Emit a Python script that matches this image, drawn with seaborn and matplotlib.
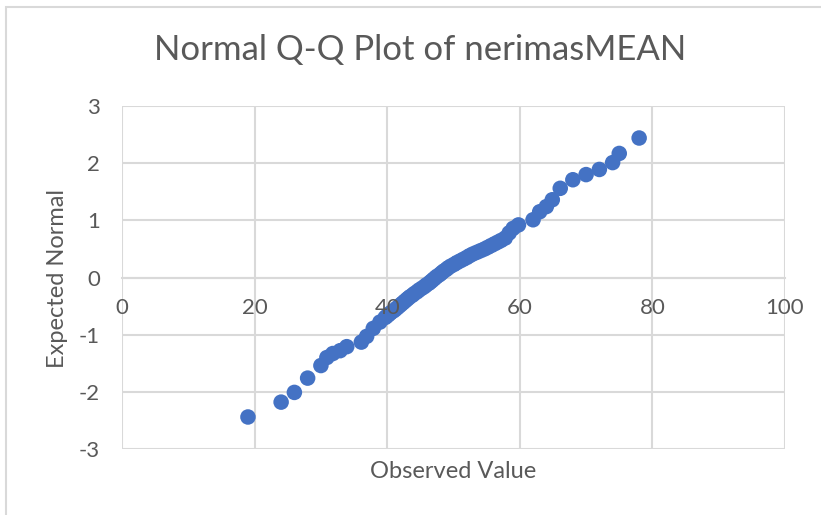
import numpy as np
import pandas as pd
import matplotlib
matplotlib.use("Agg")
import matplotlib.pyplot as plt
import matplotlib.transforms as mtransforms
from matplotlib.patches import Rectangle
import seaborn as sns

low_obs = [19.0, 24.0, 26.0, 28.0, 30.0, 30.9, 31.8, 32.9, 33.9, 36.1, 36.9, 37.9, 38.9]
low_exp = [-2.44, -2.18, -2.01, -1.76, -1.54, -1.40, -1.33, -1.28, -1.21, -1.13, -1.03, -0.89, -0.78]

mid_obs = [39.7, 40.0, 40.3, 40.6, 41.0, 41.3, 41.6, 41.9, 42.2, 42.5, 42.8, 43.1, 43.4, 43.8,
           44.1, 44.5, 44.8, 45.2, 45.6, 45.9, 46.3, 46.6, 46.9, 47.2, 47.5, 47.9, 48.2, 48.5,
           48.9, 49.2, 49.6, 50.1, 50.5, 51.0, 51.5, 52.0, 52.4, 52.9, 53.5, 54.1, 54.7, 55.2,
           55.7, 56.2, 56.7, 57.2]
mid_exp = [-0.70, -0.67, -0.64, -0.61, -0.58, -0.55, -0.52, -0.49, -0.46, -0.43, -0.40, -0.37,
           -0.34, -0.31, -0.28, -0.25, -0.22, -0.19, -0.16, -0.13, -0.10, -0.07, -0.04, -0.01,
           0.02, 0.05, 0.08, 0.11, 0.14, 0.17, 0.20, 0.23, 0.26, 0.29, 0.32, 0.35, 0.38, 0.41,
           0.44, 0.47, 0.50, 0.53, 0.56, 0.59, 0.62, 0.65]

high_obs = [57.8, 58.4, 59.0, 59.8, 62.0, 63.0, 64.0, 64.9, 66.1, 68.0, 70.0, 72.0, 74.0, 75.0, 78.0]
high_exp = [0.69, 0.78, 0.86, 0.92, 1.01, 1.15, 1.24, 1.36, 1.56, 1.71, 1.80, 1.89, 2.01, 2.17, 2.44]

x_ticks = [0, 20, 40, 60, 80, 100]
y_ticks = [-3, -2, -1, 0, 1, 2, 3]

df = pd.DataFrame({
    "observed": low_obs + mid_obs + high_obs,
    "expected": low_exp + mid_exp + high_exp,
})

sns.set_style("white")
plt.rcParams["font.family"] = ["Lato", "DejaVu Sans"]
plt.rcParams["axes.unicode_minus"] = False

text_col = "#595959"
grid_col = "#d9d9d9"

fig = plt.figure(figsize=(8.21, 5.15), dpi=100)
ax = fig.add_axes([122 / 821, 66 / 515, 663 / 821, 343 / 515])

sns.scatterplot(data=df, x="observed", y="expected", ax=ax, color="#4472C4",
                s=125, edgecolor="none", zorder=3, clip_on=False)

ax.set_xlim(0, 100)
ax.set_ylim(-3, 3)
ax.set_xticks(x_ticks)
ax.set_yticks(y_ticks)
ax.grid(True, color=grid_col, linewidth=1.5)
ax.set_axisbelow(True)

for side in ["top", "right", "left"]:
    ax.spines[side].set_visible(False)
ax.spines["bottom"].set_position(("data", 0))
ax.spines["bottom"].set_color(grid_col)
ax.spines["bottom"].set_linewidth(1.5)

# x labels sit just under the y=0 line and are drawn on top of the markers
ax.tick_params(axis="x", length=0, labelbottom=False)
ax.tick_params(axis="y", length=0, pad=16, labelsize=16, labelcolor=text_col)
offset = mtransforms.offset_copy(ax.transData, fig=fig, x=0, y=-30, units="dots")
for t in x_ticks:
    ax.text(t, 0, str(t), transform=offset, fontsize=16, color=text_col,
            ha="center", va="center", zorder=5, clip_on=False)

ax.set_xlabel("")
ax.set_ylabel("")
fig.text(58 / 821, 1 - 278 / 515, "Expected Normal", fontsize=17, color=text_col,
         ha="center", va="center", rotation=90)
fig.text(453 / 821, 1 - 471 / 515, "Observed Value", fontsize=17, color=text_col,
         ha="center", va="center")
fig.text(420 / 821, 1 - 50 / 515, "Normal Q-Q Plot of nerimasMEAN", fontsize=25,
         color=text_col, ha="center", va="center")

# chart area border (cropped at right and bottom in the reference)
fig.patches.append(Rectangle((6 / 821, -0.1), 1.1, 1 - 7 / 515 + 0.1, transform=fig.transFigure,
                             fill=False, edgecolor=grid_col, linewidth=1.5))

fig.savefig("out.png", dpi=100)
